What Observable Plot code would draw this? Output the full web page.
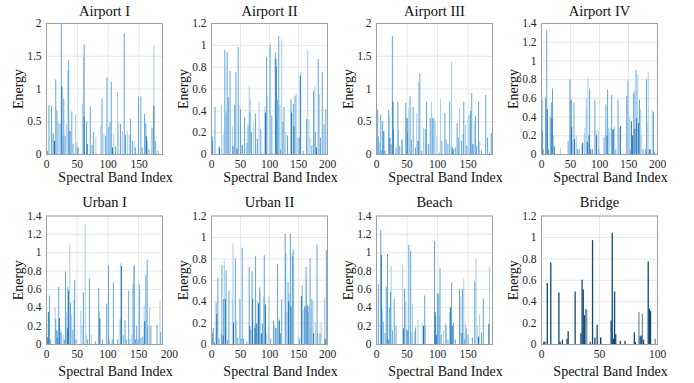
<!DOCTYPE html>
<html><head><meta charset="utf-8">
<script src="https://cdn.jsdelivr.net/npm/d3@7"></script>
<script src="https://cdn.jsdelivr.net/npm/@observablehq/plot@0.6"></script>
<style>
html,body{margin:0;padding:0;background:#fff;}
#chart{position:relative;width:694px;height:383px;overflow:hidden;background:#fff;}
#chart svg{position:absolute;overflow:visible;}
#chart svg text{font-family:'Liberation Serif','Times New Roman',serif !important;}
</style></head><body><div id="chart"></div>
<script>
// series: 1 = light, 2 = medium, 3 = dark (overlapping bar groups)
const airport1Band   = [1,4,8,9,11,13,15,17,19,22,24,25,27,28,30,32,35,36,38,41,43,47,49,51,58,60,61,61,65,66,71,74,76,80,88,90,93,96,98,101,103,105,107,109,112,115,117,120,123,126,128,131,134,136,139,142,144,149,153,155,159,161,162,163,166,171,174,174,177,181];
const airport1Energy = [0.05,0.75,0.73,0.3,0.32,0.2,1.14,0.67,0.48,0.46,1.98,1.03,0.27,0.84,0.27,0.45,1.28,1.43,0.35,0.65,0.15,0.6,0.18,0.1,0.77,1.48,1.67,0.57,0.5,0.15,0.73,0.14,0.34,0.26,0.43,0.85,0.3,0.28,1.17,0.41,0.49,1.1,0.1,0.32,0.12,0.95,0.48,0.46,0.35,1.84,0.3,0.35,0.29,0.54,0.2,0.2,0.1,0.88,0.88,0.1,0.61,0.47,0.27,0.2,0.08,0.4,1.66,0.74,0.2,0.05];
const airport1Series = [3,2,2,1,2,3,2,2,1,2,2,3,1,2,2,1,2,2,3,2,2,1,1,3,1,1,2,3,2,3,2,2,2,1,1,2,1,2,2,2,2,2,3,1,2,1,1,2,1,2,2,1,1,2,2,1,2,2,2,2,2,2,3,2,2,2,1,3,2,2];

const airport2Band   = [1,2,6,13,14,17,20,23,25,27,29,32,36,37,40,42,44,46,47,50,53,57,61,63,65,66,67,69,73,76,79,82,85,92,93,95,96,101,104,110,111,112,114,116,118,119,121,123,125,128,131,137,138,141,142,144,146,148,151,153,154,158,164,166,168,170,173,176,178,179,181,184,186,188,191,194,197];
const airport2Energy = [0.16,0.12,0.43,0.07,0.05,0.45,0.18,0.95,0.38,0.93,0.52,0.76,0.25,0.07,0.45,0.75,0.05,0.98,0.45,0.41,0.08,0.34,0.1,0.27,0.62,0.38,0.5,0.2,0.29,0.37,0.14,0.47,0.23,0.44,0.38,0.89,0.53,1.0,0.35,0.93,0.87,0.8,0.5,1.08,0.45,0.04,1.05,0.3,0.43,0.2,0.17,0.5,0.38,0.46,0.25,0.53,0.55,0.15,0.15,0.72,0.75,0.03,0.32,0.95,0.32,0.15,0.08,0.58,0.62,0.2,0.06,0.87,0.55,0.15,0.75,0.27,0.41];
const airport2Series = [3,2,2,2,3,1,1,2,2,2,2,2,1,3,2,2,3,2,1,2,3,2,2,2,1,2,1,2,1,2,2,1,2,1,3,2,1,2,2,2,3,2,2,2,1,2,1,2,2,1,2,2,3,2,3,2,1,1,2,3,1,2,2,1,1,1,2,2,1,2,3,2,1,2,2,2,2];

const airport3Band   = [2,3,5,7,8,10,12,14,20,21,22,24,26,27,28,32,35,36,38,41,42,48,50,51,53,55,57,60,64,66,68,69,71,74,77,80,82,85,88,90,92,94,96,99,103,105,107,112,114,117,120,123,124,126,129,132,134,136,139,142,143,146,148,150,152,154,156,158,160,162,164,167,169,172,179,182,185,188];
const airport3Energy = [0.68,0.27,0.18,0.6,0.05,0.5,0.35,0.05,0.67,0.6,0.25,0.15,1.8,0.8,0.38,0.1,0.8,0.38,0.12,0.22,0.22,0.78,0.55,0.33,0.7,0.88,0.22,0.72,0.1,0.63,0.2,1.11,1.23,0.05,0.4,0.38,0.8,0.15,0.55,0.8,0.55,0.55,0.5,0.28,0.02,0.84,0.2,0.63,0.22,0.15,0.8,1.4,0.1,0.07,0.1,0.47,0.25,0.7,0.2,0.3,0.8,0.45,0.13,0.58,0.6,0.66,0.93,0.15,0.5,0.58,0.12,0.8,0.2,0.05,0.9,0.25,0.02,0.32];
const airport3Series = [2,2,1,2,2,2,3,2,2,1,3,2,2,3,2,2,2,1,2,1,2,2,3,2,1,2,2,2,2,1,3,1,2,2,1,2,2,2,2,1,2,2,1,1,2,1,2,2,2,2,2,1,3,2,2,2,2,1,2,2,2,1,2,1,1,2,2,3,1,2,2,2,1,2,2,2,2,2];

const airport4Band   = [1,2,3,7,8,9,10,12,15,17,18,19,21,22,33,46,49,51,52,54,56,57,60,62,65,70,71,74,75,77,78,79,80,82,83,85,88,92,94,95,98,99,108,111,113,114,116,118,121,123,124,126,128,132,134,136,147,148,150,152,153,155,157,159,160,161,163,164,166,167,169,171,172,175,179,181,182,184,186,188,191,193,195];
const airport4Energy = [0.25,0.58,0.05,0.6,0.62,1.33,0.48,0.05,0.4,0.55,0.38,0.7,0.2,0.08,0.06,0.14,0.8,0.58,0.29,0.15,0.55,0.16,0.2,0.05,0.05,0.1,0.12,0.22,0.28,0.6,0.5,0.13,0.82,0.2,0.7,0.05,0.05,0.58,0.25,0.2,0.25,0.05,0.18,0.53,0.2,0.69,0.28,0.27,0.63,0.26,0.27,0.3,0.05,0.58,0.28,0.3,0.62,0.8,0.78,0.4,0.05,0.35,0.2,0.65,0.68,0.27,0.9,0.38,0.85,0.33,0.58,0.48,0.2,0.05,0.05,0.8,0.35,0.88,0.05,0.05,0.47,0.45,0.02];
const airport4Series = [3,1,2,2,1,2,3,2,2,2,3,2,1,3,1,2,2,3,3,1,2,3,1,2,2,2,3,1,1,1,1,3,1,3,2,3,2,2,1,3,1,2,2,2,3,2,1,1,2,3,2,1,2,2,1,3,2,1,1,1,2,3,3,2,1,3,2,3,1,3,2,1,1,2,2,2,1,1,3,2,1,2,2];

const urban1Band   = [2,3,5,7,14,15,17,18,20,21,23,24,27,29,31,33,34,35,36,38,39,41,43,45,46,48,56,58,60,63,65,67,70,73,80,85,86,87,91,98,101,102,107,109,116,120,121,122,125,128,130,134,136,139,141,142,143,145,147,149,151,152,154,157,159,160,162,164,165,168,170,180,185,186];
const urban1Energy = [0.07,0.35,0.53,0.05,0.4,0.27,0.15,0.07,0.62,0.28,0.16,0.12,0.1,0.05,0.79,0.35,0.17,0.62,0.58,1.08,0.45,0.32,0.15,0.48,0.7,0.05,0.36,0.2,0.56,1.3,0.1,0.05,0.71,0.1,0.03,0.61,0.36,0.28,0.05,0.44,0.86,0.05,0.05,0.67,0.05,0.27,0.88,0.85,0.1,0.26,0.05,0.58,0.05,0.1,0.65,0.85,0.86,0.05,0.2,0.05,0.66,0.6,0.07,0.08,0.42,0.25,0.75,0.92,0.2,0.4,0.2,0.21,0.47,0.13];
const urban1Series = [3,3,2,2,1,2,3,2,2,3,1,2,1,2,2,1,3,2,3,1,2,1,2,2,2,2,1,1,2,1,1,2,2,1,2,2,1,3,2,2,2,2,2,2,2,2,1,3,2,2,2,2,1,1,2,1,2,2,2,2,2,1,2,2,1,3,2,2,2,1,2,2,1,2];

const urban2Band   = [1,3,5,8,9,11,13,17,18,20,21,22,24,25,28,30,36,37,38,41,43,45,49,51,53,55,61,65,66,68,70,71,74,75,76,78,79,81,83,84,86,88,90,91,93,95,98,99,102,107,109,111,114,116,117,119,121,127,128,130,132,133,134,136,137,139,140,141,150,152,155,156,157,159,161,163,164,165,167,168,170,171,173,175,176,179,182,183,187,189,195,196,198];
const urban2Energy = [0.1,0.15,0.02,0.39,0.28,0.62,0.05,0.1,0.74,0.08,0.42,0.78,0.42,0.69,0.04,0.5,0.42,0.94,0.2,0.8,0.22,0.06,0.42,0.05,0.9,0.05,0.02,0.72,0.17,0.14,0.68,0.42,0.18,0.15,0.82,0.19,0.4,0.38,0.53,0.49,0.1,0.19,0.45,0.83,0.37,0.1,0.16,0.45,0.05,0.22,0.18,0.15,0.75,0.24,0.22,0.1,0.42,1.03,0.85,0.3,0.58,0.4,0.47,1.03,0.35,0.85,0.82,0.88,0.08,0.05,0.45,0.55,0.55,0.32,0.35,0.72,0.6,0.36,0.3,0.35,0.8,0.14,0.42,0.4,0.1,0.2,0.93,0.1,0.1,0.2,0.43,0.05,0.88];
const urban2Series = [3,2,2,2,3,2,2,2,2,3,2,1,3,2,2,2,1,1,3,2,1,2,2,2,2,2,2,2,3,2,2,3,1,3,2,3,1,3,2,1,3,2,1,2,3,1,1,1,2,2,1,3,2,1,3,2,2,2,2,1,2,3,1,2,3,1,2,2,1,2,3,1,1,1,3,2,1,3,1,2,2,1,2,1,3,1,2,2,2,1,1,3,2];

const beachBand   = [3,7,8,9,11,14,16,18,19,21,23,24,26,29,32,43,44,46,48,50,52,53,56,57,59,62,64,68,75,77,79,80,95,96,97,98,100,102,103,104,106,110,113,114,117,120,121,123,124,126,129,136,138,140,141,143,144,146,147,150,157,161,163,165,167,169,172,175,184,185];
const beachEnergy = [0.65,1.24,0.97,0.38,0.24,0.12,0.62,0.98,0.05,0.4,0.57,0.85,0.15,0.49,0.2,0.86,0.17,0.6,0.46,0.15,0.15,1.08,1.01,0.13,0.44,0.14,0.18,0.26,0.23,0.2,0.53,0.2,1.12,0.35,0.3,0.1,0.55,0.55,0.3,0.83,0.1,0.15,0.23,0.2,0.05,0.35,0.4,0.67,0.2,0.23,0.05,0.6,0.52,0.12,0.6,0.71,0.05,0.22,0.17,0.1,0.07,0.69,0.94,0.2,0.08,0.32,0.12,0.5,0.22,0.85];
const beachSeries = [2,2,3,2,2,2,2,2,3,2,2,1,2,2,2,1,3,2,1,3,2,2,2,1,1,1,2,1,1,3,2,1,2,3,2,3,2,2,1,2,2,1,1,2,2,1,3,2,3,2,2,2,1,3,2,1,2,1,2,2,2,2,1,1,3,1,2,2,3,1];

const bridgeBand   = [2,3,5,8,15,16,18,22,23,29,34,35,36,37,38,39,42,44,46,48,51,51,60,61,62,63,64,68,72,80,81,84,85,86,87,88,92,93,94,98];
const bridgeEnergy = [0.02,0.02,0.57,0.76,0.48,0.02,0.04,0.05,0.12,0.49,0.1,0.6,0.51,0.27,0.33,0.32,0.02,0.97,0.06,0.18,0.06,0.06,0.22,1.04,0.05,0.49,0.09,0.03,0.03,0.11,0.02,0.3,0.07,0.08,0.28,0.04,0.77,0.33,0.31,0.05];
const bridgeSeries = [3,3,3,3,3,3,3,3,3,3,3,3,3,3,1,1,3,3,3,3,1,3,3,3,3,3,3,3,3,3,3,1,3,3,1,3,3,3,3,1];

const titles = ["Airport I","Airport II","Airport III","Airport IV","Urban I","Urban II","Beach","Bridge"];
const xMaxes = [188,200,190,200,189,200,190,100];
const xTickSets = [[0,50,100,150],[0,50,100,150,200],[0,50,100,150],[0,50,100,150,200],[0,50,100,150,200],[0,50,100,150,200],[0,50,100,150],[0,50,100]];
const yMaxes = [2,1.2,2,1.4,1.4,1.2,1.4,1.2];
const yTickSets = [
  [0,0.5,1,1.5,2],[0,0.2,0.4,0.6,0.8,1,1.2],[0,0.5,1,1.5,2],[0,0.2,0.4,0.6,0.8,1,1.2,1.4],
  [0,0.2,0.4,0.6,0.8,1,1.2,1.4],[0,0.2,0.4,0.6,0.8,1,1.2],[0,0.2,0.4,0.6,0.8,1,1.2,1.4],[0,0.2,0.4,0.6,0.8,1,1.2]
];
const bandSets = [airport1Band,airport2Band,airport3Band,airport4Band,urban1Band,urban2Band,beachBand,bridgeBand];
const energySets = [airport1Energy,airport2Energy,airport3Energy,airport4Energy,urban1Energy,urban2Energy,beachEnergy,bridgeEnergy];
const seriesSets = [airport1Series,airport2Series,airport3Series,airport4Series,urban1Series,urban2Series,beachSeries,bridgeSeries];

const blues = {1:"#a6cce9", 2:"#5ea6dd", 3:"#2274b8"};
const navy  = {1:"#7590a8", 2:"#4a6f90", 3:"#0e4a78"};
const fmt = d3.format("~g");
const font = "'Liberation Serif','Times New Roman',serif";
const chart = document.getElementById("chart");

titles.forEach((title, k) => {
  const row = k < 4 ? 0 : 1, col = k % 4;
  const pal = k === 7 ? navy : blues;
  const rows = bandSets[k].map((b, i) => ({band: b, energy: energySets[k][i], series: seriesSets[k][i]}))
    .sort((a, b) => a.series - b.series);
  const xMax = xMaxes[k];
  const xt = xTickSets[k];
  const yt = yTickSets[k];
  const svg = Plot.plot({
    width: 165,
    height: row ? 193 : 190,
    marginLeft: 46, marginRight: 3,
    marginTop: row ? 25.5 : 23,
    marginBottom: row ? 39 : 36,
    style: {fontFamily: font, fontSize: "11.5px", color: "#262626", background: "transparent", overflow: "visible"},
    x: {domain: [0, xMax], label: null},
    y: {domain: [0, yMaxes[k]], label: null},
    marks: [
      Plot.gridX(xt.filter(t => t <= xMax), {stroke: "#e6e6e6", strokeOpacity: 1}),
      Plot.gridY(yt, {stroke: "#e6e6e6", strokeOpacity: 1}),
      Plot.ruleX(rows, {x: "band", y1: 0, y2: "energy", stroke: d => pal[d.series], strokeWidth: k === 7 ? 1.3 : 1}),
      Plot.frame({stroke: "#a0a0a0"}),
      Plot.axisX(xt, {tickSize: 0, tickPadding: 5.5, tickFormat: fmt, label: null}),
      Plot.axisY(yt, {tickSize: 0, tickPadding: 5, tickFormat: fmt, label: null}),
      Plot.text([title], {text: d => d, frameAnchor: "top", lineAnchor: "top", dy: row ? -19 : -18, fontSize: 14.5, fill: "#111"}),
      Plot.text(["Energy"], {text: d => d, frameAnchor: "left", textAnchor: "middle", lineAnchor: "middle", rotate: -90, dx: -28, fontSize: 14, fill: "#111"}),
      Plot.text(["Spectral Band Index"], {text: d => d, frameAnchor: "bottom", lineAnchor: "bottom", dx: 11, dy: row ? 31 : 27.5, fontSize: 14, fill: "#111"})
    ]
  });
  svg.style.left = (col * 165) + "px";
  svg.style.top = (row ? 190 : 0) + "px";
  chart.append(svg);
});
</script>
</body></html>
